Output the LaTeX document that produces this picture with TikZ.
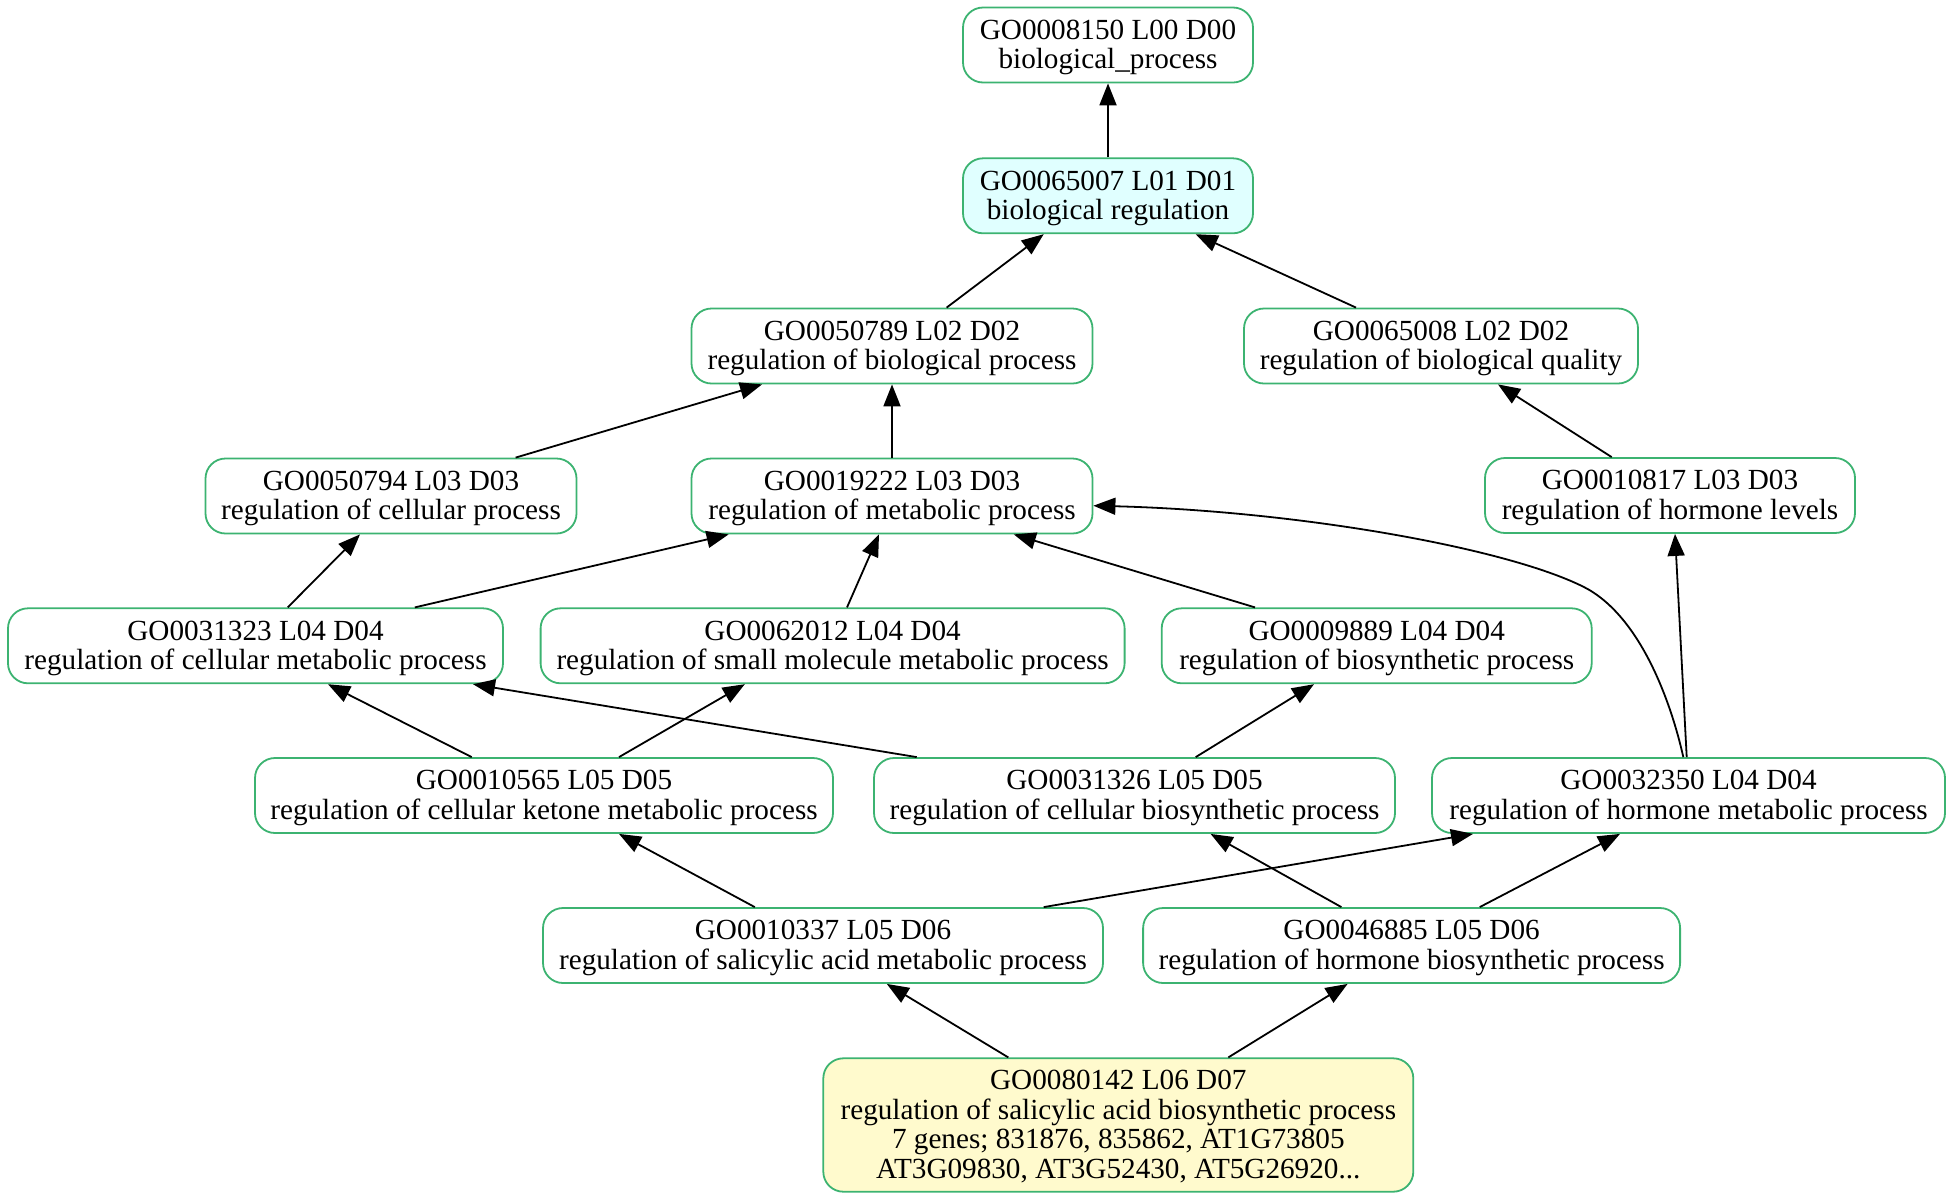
\documentclass[tikz,border=0pt]{standalone}
\usepackage{fontspec}
\setmainfont{Liberation Serif}
\usetikzlibrary{arrows.meta,calc}
\definecolor{goborder}{RGB}{60,179,113}
\definecolor{gocyan}{RGB}{224,255,255}
\definecolor{goyellow}{RGB}{255,250,205}
% struts that fix the first baseline and the last depth of every label
\newcommand\lntop{\rule{0pt}{12.5pt}}
\newcommand\lnbot{\rule[-3.5pt]{0pt}{3.5pt}}
\begin{document}
\begin{tikzpicture}[x=0.5pt,y=-0.5pt,
  gonode/.style={draw=goborder,line width=0.9pt,rounded corners=10pt,
    fill=white,minimum height=37.5pt,inner xsep=6pt,inner ysep=2pt,
    align=center,font=\fontsize{14.6}{14.8}\selectfont},
  isa/.style={draw=black,line width=0.9pt,-{Triangle[length=11pt,width=8.5pt]}}]
\useasboundingbox (0,0) rectangle (1953,1200);
% GO terms, one row per depth
\node[gonode,minimum width=145pt] (n8150) at (1108,45) {\lntop GO0008150 L00 D00\\biological\_process\lnbot};
\node[gonode,minimum width=145pt,fill=gocyan] (n65007) at (1108,195.8) {\lntop GO0065007 L01 D01\\biological regulation\lnbot};
\node[gonode,minimum width=200.5pt] (n50789) at (892,346) {\lntop GO0050789 L02 D02\\regulation of biological process\lnbot};
\node[gonode,minimum width=197pt] (n65008) at (1441,346) {\lntop GO0065008 L02 D02\\regulation of biological quality\lnbot};
\node[gonode,minimum width=185.5pt] (n50794) at (391,496) {\lntop GO0050794 L03 D03\\regulation of cellular process\lnbot};
\node[gonode,minimum width=200.5pt] (n19222) at (892,496) {\lntop GO0019222 L03 D03\\regulation of metabolic process\lnbot};
\node[gonode,minimum width=185pt] (n10817) at (1670,495.5) {\lntop GO0010817 L03 D03\\regulation of hormone levels\lnbot};
\node[gonode,minimum width=247.5pt] (n31323) at (255.5,645.8) {\lntop GO0031323 L04 D04\\regulation of cellular metabolic process\lnbot};
\node[gonode,minimum width=292pt] (n62012) at (832.6,645.8) {\lntop GO0062012 L04 D04\\regulation of small molecule metabolic process\lnbot};
\node[gonode,minimum width=215pt] (n9889) at (1376.7,645.8) {\lntop GO0009889 L04 D04\\regulation of biosynthetic process\lnbot};
\node[gonode,minimum width=289pt] (n10565) at (544,795.5) {\lntop GO0010565 L05 D05\\regulation of cellular ketone metabolic process\lnbot};
\node[gonode,minimum width=260.5pt] (n31326) at (1134.5,795.5) {\lntop GO0031326 L05 D05\\regulation of cellular biosynthetic process\lnbot};
\node[gonode,minimum width=256.5pt] (n32350) at (1688.5,795.5) {\lntop GO0032350 L04 D04\\regulation of hormone metabolic process\lnbot};
\node[gonode,minimum width=280pt] (n10337) at (823,945.5) {\lntop GO0010337 L05 D06\\regulation of salicylic acid metabolic process\lnbot};
\node[gonode,minimum width=268.5pt] (n46885) at (1411.6,945.5) {\lntop GO0046885 L05 D06\\regulation of hormone biosynthetic process\lnbot};
\node[gonode,minimum width=295pt,minimum height=66.7pt,fill=goyellow] (n80142) at (1118.3,1125) {\lntop GO0080142 L06 D07\\regulation of salicylic acid biosynthetic process\\7 genes; 831876, 835862, AT1G73805\\AT3G09830, AT3G52430, AT5G26920...\lnbot};
% is_a links, child to parent
\draw[isa] (n65007.north) -- (n8150.south);
\draw[isa] ($(n50789.north)+(54.6,0)$) -- ($(n65007.south)+(-64.3,0)$);
\draw[isa] ($(n65008.north)+(-85,0)$) -- ($(n65007.south)+(87.7,0)$);
\draw[isa] ($(n50794.north)+(124.6,0)$) -- ($(n50789.south)+(-130,0)$);
\draw[isa] (n19222.north) -- (n50789.south);
\draw[isa] ($(n10817.north)+(-58.3,0)$) -- ($(n65008.south)+(57,0)$);
\draw[isa] ($(n31323.north)+(32.2,0)$) -- ($(n50794.south)+(-31,0)$);
\draw[isa] ($(n31323.north)+(159.3,0)$) -- ($(n19222.south)+(-163.4,0)$);
\draw[isa] ($(n62012.north)+(14.4,0)$) -- ($(n19222.south)+(-13,0)$);
\draw[isa] ($(n9889.north)+(-121.7,0)$) -- ($(n19222.south)+(121.8,0)$);
\draw[isa] ($(n32350.north)+(-5.2,0)$) .. controls (1671,702) and (1640,615) .. (1583.3,586.7)
  .. controls (1503,546.7) and (1292.5,510.7) .. ($(n19222.east)+(0,9.7)$);
\draw[isa] ($(n32350.north)+(-1.8,0)$) -- ($(n10817.south)+(5,0)$);
\draw[isa] ($(n10565.north)+(-72.3,0)$) -- ($(n31323.south)+(72.5,0)$);
\draw[isa] ($(n10565.north)+(75,0)$) -- ($(n62012.south)+(-87.8,0)$);
\draw[isa] ($(n31326.north)+(-217.8,0)$) -- ($(n31323.south)+(217.5,0)$);
\draw[isa] ($(n31326.north)+(61.2,0)$) -- ($(n9889.south)+(-62.7,0)$);
\draw[isa] ($(n10337.north)+(-68.2,0)$) -- ($(n10565.south)+(75,0)$);
\draw[isa] ($(n10337.north)+(220.7,0)$) -- ($(n32350.south)+(-215.5,0)$);
\draw[isa] ($(n46885.north)+(-70.2,0)$) -- ($(n31326.south)+(76.1,0)$);
\draw[isa] ($(n46885.north)+(68.1,0)$) -- ($(n32350.south)+(-68.5,0)$);
\draw[isa] ($(n80142.north)+(-110,0)$) -- ($(n10337.south)+(63.8,0)$);
\draw[isa] ($(n80142.north)+(110,0)$) -- ($(n46885.south)+(-64,0)$);
\end{tikzpicture}
\end{document}
